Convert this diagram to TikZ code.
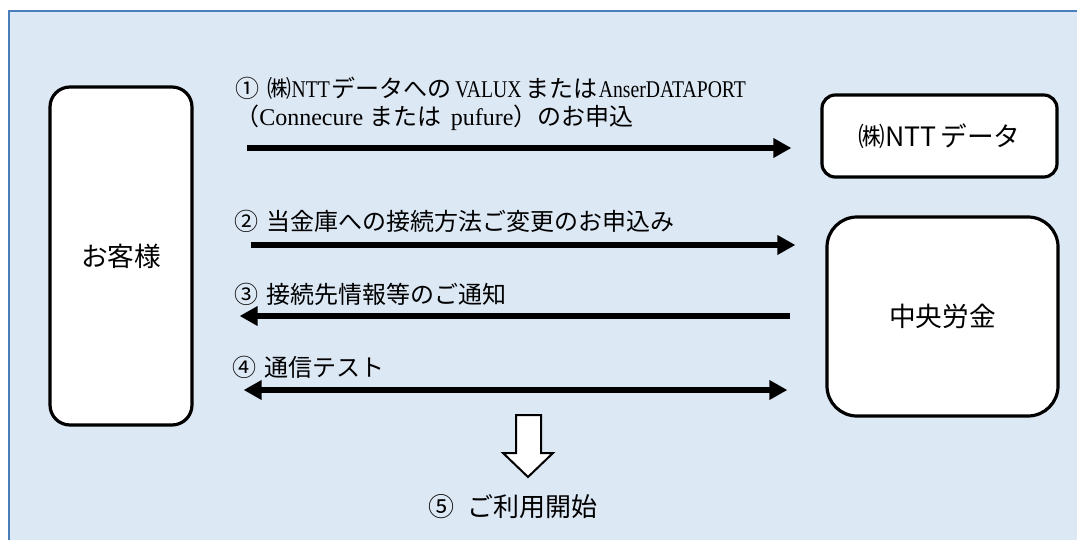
\documentclass[tikz,border=0pt]{standalone}
\usepackage{fontspec}
\setmainfont{Noto Sans CJK JP}
\newfontfamily\latserif{Liberation Serif}
\newcommand\latn[1]{\scalebox{0.82}[1]{\latserif #1}}
\newcommand\latw[1]{{\latserif #1}}
\usetikzlibrary{arrows.meta}
\definecolor{bgblue}{RGB}{221,232,245}
\definecolor{frameblue}{RGB}{74,126,187}
\begin{document}
\begin{tikzpicture}[x=0.75pt,y=-0.75pt,
  box/.style={draw=black, line width=2.4pt, fill=white, rounded corners=#1,
    inner sep=0pt, font=\fontsize{20pt}{24pt}\selectfont},
  lbl/.style={anchor=west, inner sep=0pt, font=\fontsize{18pt}{22pt}\selectfont},
  lblbig/.style={anchor=west, inner sep=0pt, font=\fontsize{19.5pt}{23pt}\selectfont},
  arr/.style={line width=4.5pt, -{Triangle[length=13.5pt,width=14pt]}},
  darr/.style={line width=4.5pt, {Triangle[length=13.5pt,width=14pt]}-{Triangle[length=13.5pt,width=14pt]}},
  hollow/.style={draw=black, line width=1.5pt, fill=white, line join=miter}]
\path[use as bounding box, clip] (0,0) rectangle (1077,539);
\fill[white] (0,0) rectangle (1077,539);
\draw[fill=bgblue, draw=frameblue, line width=2pt] (9,11) rectangle (1100,570);

% boxes
\node[box=15pt, minimum width=106.5pt, minimum height=253.5pt] (kyaku) at (121,256) {お客様};
\node[box=10pt, minimum width=176.25pt, minimum height=61.5pt] (ntt) at (939.5,136) {㈱NTT\hspace{3pt}データ};
\node[box=22.5pt, minimum width=173.25pt, minimum height=149.25pt] (chuo) at (942.5,316.5) {中央労金};

% row coordinates
\coordinate (r1) at (0,148);
\coordinate (r2) at (0,245);
\coordinate (r3) at (0,316);
\coordinate (r4) at (0,390);

% labels
\node[lbl] (t1a) at (235,88) {①\hspace{0.35em}㈱\latn{NTT}\hspace{1pt}データへの\hspace{3pt}\latn{VALUX}\hspace{3pt}または\hspace{1pt}\latn{AnserDATAPORT}};
\node[lbl] (t1b) at (235,118) {（\latw{Connecure}\hspace{0.25em}または\hspace{0.4em}\latw{pufure}）のお申込};
\node[lbl] (t2) at (234,221) {②\hspace{0.35em}当金庫への接続方法ご変更のお申込み};
\node[lbl] (t3) at (234,294) {③\hspace{0.35em}接続先情報等のご通知};
\node[lbl] (t4) at (232,367) {④\hspace{0.35em}通信テスト};
\node[lblbig] (t5) at (428,507) {⑤\hspace{0.5em}ご利用開始};

% connectors
\draw[arr, shorten <=39.75pt, shorten >=21.75pt] (kyaku.east |- r1) -- (ntt.west |- r1);
\draw[arr, shorten <=42.75pt, shorten >=22.5pt] (kyaku.east |- r2) -- (chuo.west |- r2);
\draw[arr, shorten <=26.25pt, shorten >=34.5pt] (chuo.west |- r3) -- (kyaku.east |- r3);
\draw[darr, shorten <=37.5pt, shorten >=28.5pt] (kyaku.east |- r4) -- (chuo.west |- r4);

% hollow down arrow
\draw[hollow] (516,415) -- (541,415) -- (541,453) -- (553,453) -- (528,477) -- (503,453) -- (516,453) -- cycle;
\end{tikzpicture}
\end{document}
